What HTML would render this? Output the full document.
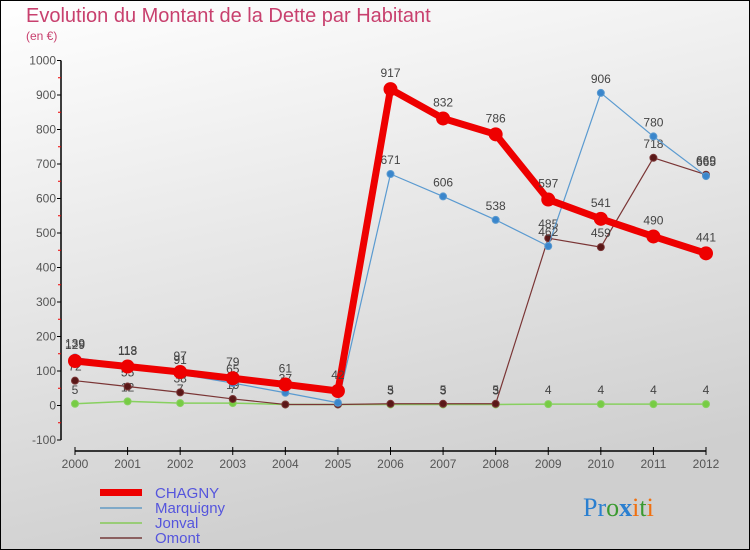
<!DOCTYPE html>
<html><head><meta charset="utf-8"><style>
body{margin:0;width:750px;height:550px;overflow:hidden;font-family:"Liberation Sans",sans-serif}
svg{display:block}
</style></head><body>
<svg width="750" height="550" viewBox="0 0 750 550">
<defs>
<linearGradient id="bg" x1="0" y1="0" x2="0.3" y2="1"><stop offset="0" stop-color="#ffffff"/><stop offset="1" stop-color="#cfcfcf"/></linearGradient>
</defs>
<rect x="0" y="0" width="750" height="550" fill="url(#bg)" stroke="#000" stroke-width="2"/>
<text x="26" y="22" font-size="20" fill="#c8406e">Evolution du Montant de la Dette par Habitant</text>
<text x="26" y="40" font-size="12" fill="#c8406e">(en €)</text>
<g id="axes"></g>
<g id="series"></g>
<g>
<rect x="100" y="489" width="42" height="7" fill="#ee0000"/>
<text x="155" y="498" font-size="15" fill="#5555dd">CHAGNY</text>
<line x1="100" y1="508" x2="142" y2="508" stroke="#7fa9c8" stroke-width="2"/>
<text x="155" y="513" font-size="15" fill="#5555dd">Marquigny</text>
<line x1="100" y1="523" x2="142" y2="523" stroke="#99cc77" stroke-width="2"/>
<text x="155" y="528" font-size="15" fill="#5555dd">Jonval</text>
<line x1="100" y1="538" x2="142" y2="538" stroke="#8b6060" stroke-width="2"/>
<text x="155" y="543" font-size="15" fill="#5555dd">Omont</text>
</g>
<text x="583" y="516" font-size="26" font-family="Liberation Serif, serif"><tspan fill="#2a7fd0">Pr</tspan><tspan fill="#3a9a30">o</tspan><tspan fill="#2a7fd0" font-weight="bold">x</tspan><tspan fill="#f07010">i</tspan><tspan fill="#3a9a30">t</tspan><tspan fill="#f07010">i</tspan></text>
</svg>
<script>
const years=[2000,2001,2002,2003,2004,2005,2006,2007,2008,2009,2010,2011,2012];
const yTicks=[-100,0,100,200,300,400,500,600,700,800,900,1000];
const chagny=[129,113,97,79,61,42,917,832,786,597,541,490,441];
const marquigny=[139,118,91,65,37,8,671,606,538,462,906,780,665];
const jonval=[5,12,7,7,3,3,3,3,3,4,4,4,4];
const omont=[72,55,38,19,3,3,5,5,5,485,459,718,669];
const NS="http://www.w3.org/2000/svg";
const X=i=>75+i*(706-75)/12;
const Y=v=>405.5-v*0.345;
function mk(t,a,p){const e=document.createElementNS(NS,t);for(const k in a)e.setAttribute(k,a[k]);p.appendChild(e);return e;}
const ax=document.getElementById('axes');
const yl=mk('line',{x1:61,y1:Y(1000),x2:61,y2:Y(-100),stroke:'#000','stroke-width':1.5},ax);


const xl=mk('line',{x1:X(0),y1:451,x2:X(12),y2:451,stroke:'#000','stroke-width':1.5},ax);


yTicks.forEach(v=>{
 mk('line',{x1:57,y1:Y(v),x2:61,y2:Y(v),stroke:'#000'},ax);
 if(v<1000) mk('line',{x1:58,y1:Y(v+50),x2:61,y2:Y(v+50),stroke:'#e00'},ax);
 const t=mk('text',{x:56,y:Y(v)+4,'text-anchor':'end','font-size':12,fill:'#555'},ax);
 t.textContent=v;
 
 
});
years.forEach((yr,i)=>{
 mk('line',{x1:X(i),y1:447,x2:X(i),y2:455,stroke:'#000'},ax);
 const t=mk('text',{x:X(i),y:468,'text-anchor':'middle','font-size':12,fill:'#555'},ax);
 t.textContent=yr;
 
 
});
const sg=document.getElementById('series');
function draw(d,name,col,w,r,fill,dy){
 const g=mk('g',{},sg);
 
 
 const p=mk('polyline',{points:d.map((v,i)=>X(i)+','+Y(v)).join(' '),fill:'none',stroke:col,'stroke-width':w,'stroke-linejoin':'round'},g);
 
 
 d.forEach((v,i)=>{
  const c=mk('circle',{cx:X(i),cy:Y(v),r:r,fill:fill,stroke:col,'stroke-width':1},g);
  
  
  const t=mk('text',{x:X(i),y:Y(v)-dy,'text-anchor':'middle','font-size':12,fill:'#444'},g);
  t.textContent=v;
  
  
 });
}
draw(jonval,'jonval','#88d060',1.5,3.5,'#77cc44',10);
draw(omont,'omont','#7a3535',1.2,3.5,'#5a1818',10);
draw(marquigny,'marquigny','#5a9ad0',1.2,3.5,'#3a86cc',10);
draw(chagny,'chagny','#ee0000',7,6.5,'#ee0000',12);
</script>
</body></html>
